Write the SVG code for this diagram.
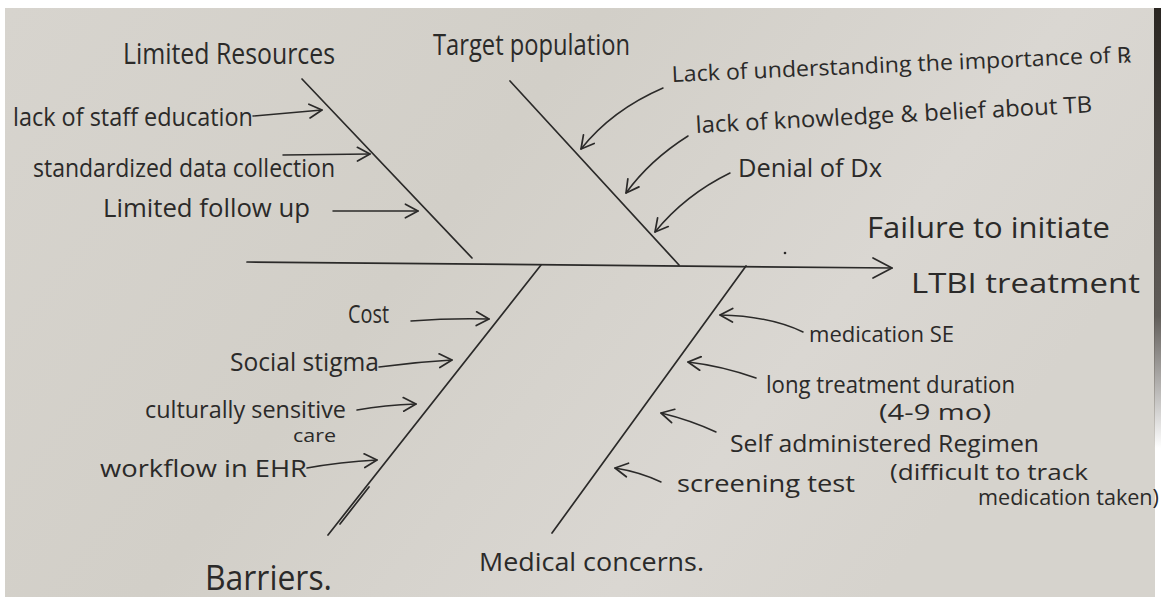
<svg xmlns="http://www.w3.org/2000/svg" width="1161" height="602" viewBox="0 0 1161 602">
  <defs>
    <linearGradient id="paper" x1="0" y1="0" x2="1" y2="0.4">
      <stop offset="0" stop-color="#d7d4ce"/>
      <stop offset="0.45" stop-color="#d2cfc8"/>
      <stop offset="0.8" stop-color="#dad7d2"/>
      <stop offset="1" stop-color="#d6d3cd"/>
    </linearGradient>
    <linearGradient id="edge" x1="0" y1="0" x2="0" y2="1">
      <stop offset="0" stop-color="#2a2622"/>
      <stop offset="0.7" stop-color="#3a3530" stop-opacity="0.8"/>
      <stop offset="1" stop-color="#3a3530" stop-opacity="0"/>
    </linearGradient>
    <marker id="head" markerUnits="userSpaceOnUse" markerWidth="16" markerHeight="16" refX="12" refY="7" orient="auto" viewBox="0 0 14 14">
      <path d="M1,1 L12,7 L1,13" fill="none" stroke="#2b2a29" stroke-width="1.5" stroke-linecap="round" stroke-linejoin="round"/>
    </marker>
    <style>
      text { font-family: "Open Sans", "Liberation Sans", sans-serif; fill: #2b2a29; }
      .bone { stroke: #2b2a29; stroke-width: 1.7; fill: none; stroke-linecap: round; }
      .arr { stroke: #2b2a29; stroke-width: 1.5; fill: none; stroke-linecap: round; marker-end: url(#head); }
      .t25 { font-size: 25px; }
      .t23 { font-size: 23px; }
      .t21 { font-size: 21px; }
      .cat { font-size: 29px; }
    </style>
  </defs>

  <rect x="0" y="0" width="1161" height="602" fill="#ffffff"/>
  <rect x="5" y="8" width="1150" height="589" fill="url(#paper)"/>
  <rect x="1154" y="8" width="7" height="440" fill="url(#edge)"/>

  <g id="connectors">
    <path class="bone" d="M247,262 L892,268"/>
    <path class="bone" d="M873,258 L892,268 L873,278" stroke-linejoin="round"/>
    <path class="bone" d="M302,79 L472,258"/>
    <path class="bone" d="M510,81 L679,265"/>
    <path class="bone" d="M541,265 L328,535"/>
    <path class="bone" d="M369,487 L340,524" stroke-width="1.2"/>
    <path class="bone" d="M746,266 L552,533"/>
    <!-- Limited resources causes -->
    <path class="arr" d="M253,116 L322,110"/>
    <path class="arr" d="M283,155 L370,154"/>
    <path class="arr" d="M333,211 L418,211"/>
    <!-- Target population causes -->
    <path class="arr" d="M663,88 Q612,110 581,149"/>
    <path class="arr" d="M688,136 Q650,160 626,193"/>
    <path class="arr" d="M730,173 Q685,195 655,232"/>
    <!-- Barriers causes -->
    <path class="arr" d="M411,321 Q450,318 489,319"/>
    <path class="arr" d="M379,367 Q415,362 452,360"/>
    <path class="arr" d="M357,410 Q385,405 416,404"/>
    <path class="arr" d="M307,468 Q340,462 377,460"/>
    <!-- Medical concerns causes -->
    <path class="arr" d="M803,332 Q770,316 720,315"/>
    <path class="arr" d="M756,378 Q722,366 688,362"/>
    <path class="arr" d="M716,432 Q690,420 661,413"/>
    <path class="arr" d="M661,482 Q640,472 615,468"/>
    <circle cx="785" cy="253" r="1.3" fill="#2b2a29"/>
  </g>

  <g id="effect">
    <text x="867" y="238" font-size="30" textLength="243" lengthAdjust="spacingAndGlyphs">Failure to initiate</text>
    <text x="911" y="293" font-size="28" textLength="229" lengthAdjust="spacingAndGlyphs">LTBI treatment</text>
  </g>

  <g id="limited-resources">
    <text class="cat" x="123" y="64" textLength="212" lengthAdjust="spacingAndGlyphs">Limited Resources</text>
    <text class="t25" x="13" y="126" textLength="240" lengthAdjust="spacingAndGlyphs">lack of staff education</text>
    <text class="t25" x="33" y="177" textLength="302" lengthAdjust="spacingAndGlyphs">standardized data collection</text>
    <text class="t25" x="103" y="217" textLength="207" lengthAdjust="spacingAndGlyphs">Limited follow up</text>
  </g>

  <g id="target-population">
    <text class="cat" x="433" y="55" textLength="197" lengthAdjust="spacingAndGlyphs">Target population</text>
    <text x="672" y="82" font-size="22" transform="rotate(-2.5 672 82)" textLength="460" lengthAdjust="spacingAndGlyphs">Lack of understanding the importance of ℞</text>
    <text class="t23" x="696" y="133" transform="rotate(-3 696 133)" textLength="397" lengthAdjust="spacingAndGlyphs">lack of knowledge &amp; belief about TB</text>
    <text class="t25" x="738" y="177" textLength="144" lengthAdjust="spacingAndGlyphs">Denial of Dx</text>
  </g>

  <g id="barriers">
    <text x="205" y="590" font-size="34" textLength="127" lengthAdjust="spacingAndGlyphs">Barriers.</text>
    <text class="t25" x="348" y="323" textLength="41" lengthAdjust="spacingAndGlyphs">Cost</text>
    <text class="t25" x="230" y="371" textLength="149" lengthAdjust="spacingAndGlyphs">Social stigma</text>
    <text class="t23" x="145" y="418" textLength="201" lengthAdjust="spacingAndGlyphs">culturally sensitive</text>
    <text x="293" y="442" font-size="18" textLength="43" lengthAdjust="spacingAndGlyphs">care</text>
    <text class="t23" x="100" y="477" textLength="207" lengthAdjust="spacingAndGlyphs">workflow in EHR</text>
  </g>

  <g id="medical-concerns">
    <text x="479" y="571" font-size="25" textLength="225" lengthAdjust="spacingAndGlyphs">Medical concerns.</text>
    <text class="t21" x="809" y="342" textLength="145" lengthAdjust="spacingAndGlyphs">medication SE</text>
    <text class="t23" x="766" y="393" textLength="249" lengthAdjust="spacingAndGlyphs">long treatment duration</text>
    <text class="t21" x="879" y="420" textLength="112" lengthAdjust="spacingAndGlyphs">(4-9 mo)</text>
    <text class="t23" x="730" y="452" textLength="309" lengthAdjust="spacingAndGlyphs">Self administered Regimen</text>
    <text class="t21" x="890" y="480" textLength="198" lengthAdjust="spacingAndGlyphs">(difficult to track</text>
    <text class="t21" x="978" y="505" textLength="181" lengthAdjust="spacingAndGlyphs">medication taken)</text>
    <text class="t23" x="677" y="492" textLength="178" lengthAdjust="spacingAndGlyphs">screening test</text>
  </g>
</svg>
